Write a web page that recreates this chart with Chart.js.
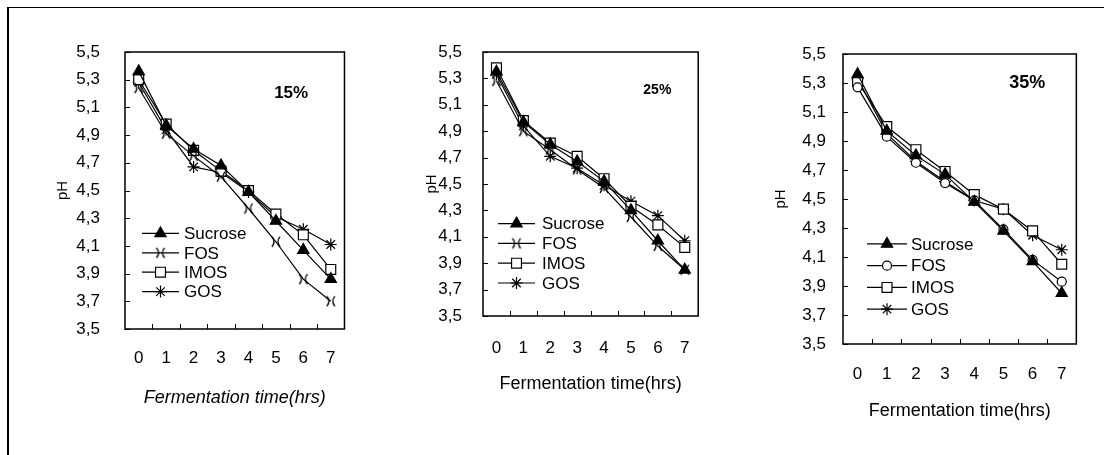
<!DOCTYPE html>
<html>
<head>
<meta charset="utf-8">
<script src="https://cdn.jsdelivr.net/npm/chart.js@4.4.1/dist/chart.umd.min.js"></script>
<style>
  body { margin: 0; background: #fff; width: 1104px; height: 455px; overflow: hidden; position: relative; }
  #frame { position: absolute; left: 7px; top: 7px; width: 1110px; height: 460px; border-top: 1px solid #000; border-left: 2px solid #000; }
  canvas { position: absolute; }
</style>
</head>
<body>
<div id="frame"></div>
<canvas id="c1" width="315" height="374" style="left:40px;top:40px"></canvas>
<canvas id="c2" width="307" height="360" style="left:405px;top:40px"></canvas>
<canvas id="c3" width="322" height="385" style="left:765px;top:42px"></canvas>
<script>
var hours = ['0', '1', '2', '3', '4', '5', '6', '7'];
var yTicks = [3.5, 3.7, 3.9, 4.1, 4.3, 4.5, 4.7, 4.9, 5.1, 5.3, 5.5];

// 15%
var sucrose15 = [5.36, 4.97, 4.80, 4.68, 4.49, 4.28, 4.07, 3.86];
var fos15     = [5.24, 4.91, 4.75, 4.60, 4.37, 4.13, 3.86, 3.70];
var imos15    = [5.30, 4.98, 4.79, 4.64, 4.50, 4.33, 4.18, 3.93];
var gos15     = [5.28, 4.94, 4.67, 4.63, 4.49, 4.31, 4.22, 4.11];
// 25%
var sucrose25 = [5.35, 4.97, 4.80, 4.67, 4.52, 4.30, 4.07, 3.85];
var fos25     = [5.28, 4.90, 4.76, 4.61, 4.47, 4.25, 4.03, 3.85];
var imos25    = [5.38, 4.98, 4.81, 4.71, 4.54, 4.33, 4.19, 4.02];
var gos25     = [5.33, 4.94, 4.71, 4.62, 4.49, 4.37, 4.26, 4.07];
// 35%
var sucrose35 = [5.36, 4.97, 4.80, 4.67, 4.48, 4.28, 4.07, 3.85];
var fos35     = [5.27, 4.93, 4.75, 4.61, 4.49, 4.29, 4.08, 3.93];
var imos35    = [5.31, 5.00, 4.84, 4.69, 4.53, 4.43, 4.28, 4.05];
var gos35     = [5.33, 4.95, 4.76, 4.62, 4.49, 4.43, 4.25, 4.15];

var FONT = "'Liberation Sans', Arial, sans-serif";

// ")(" marker used for FOS in the first two panels
function bowtie() {
    var c = document.createElement('canvas');
    c.width = 14; c.height = 14;
    var g = c.getContext('2d');
    g.strokeStyle = '#000';
    g.lineWidth = 1.4;
    g.beginPath(); g.arc(-2, 7, 7, -0.8, 0.8); g.stroke();
    g.beginPath(); g.arc(16, 7, 7, Math.PI - 0.8, Math.PI + 0.8); g.stroke();
    return c;
}
var bow = bowtie();

// box round the plot + small inner ticks
var framePlugin = {
    id: 'framePlugin',
    afterDraw: function (chart) {
        var a = chart.chartArea, ctx = chart.ctx;
        var xs = chart.scales.x, ys = chart.scales.y;
        ctx.save();
        ctx.strokeStyle = '#000';
        ctx.lineWidth = 1.5;
        ctx.strokeRect(a.left, a.top, a.right - a.left, a.bottom - a.top);
        ctx.lineWidth = 1;
        ctx.beginPath();
        yTicks.forEach(function (v) {
            var y = Math.round(ys.getPixelForValue(v)) + 0.5;
            ctx.moveTo(a.left, y); ctx.lineTo(a.left + 5, y);
        });
        for (var i = 0; i < hours.length - 1; i++) {
            var x = Math.round((xs.getPixelForValue(i) + xs.getPixelForValue(i + 1)) / 2) + 0.5;
            ctx.moveTo(x, a.bottom); ctx.lineTo(x, a.bottom - 5);
        }
        ctx.stroke();
        ctx.restore();
    }
};

// legend drawn inside the plot, lower left
var inLegend = {
    id: 'inLegend',
    afterDatasetsDraw: function (chart, args, o) {
        var a = chart.chartArea, ctx = chart.ctx, h = a.bottom - a.top;
        ctx.save();
        chart.data.datasets.forEach(function (ds, i) {
            var y = a.top + (o.top + o.step * i) * h;
            var x0 = a.left + o.x0, x1 = a.left + o.x1;
            ctx.strokeStyle = '#000';
            ctx.lineWidth = 1.2;
            ctx.beginPath(); ctx.moveTo(x0, y); ctx.lineTo(x1, y); ctx.stroke();
            ctx.fillStyle = ds.pointBackgroundColor;
            Chart.helpers.drawPoint(ctx, { pointStyle: ds.pointStyle, radius: ds.pointRadius, borderWidth: 1.2, rotation: 0 }, (x0 + x1) / 2, y);
            ctx.fillStyle = '#000';
            ctx.font = o.size + 'px ' + FONT;
            ctx.textAlign = 'left';
            ctx.textBaseline = 'middle';
            ctx.fillText(ds.label, a.left + o.tx, y + 1);
        });
        ctx.restore();
    }
};

// "15%" etc.
var panelNote = {
    id: 'panelNote',
    afterDraw: function (chart, args, o) {
        var a = chart.chartArea, ctx = chart.ctx;
        ctx.save();
        ctx.fillStyle = '#000';
        ctx.font = 'bold ' + o.size + 'px ' + FONT;
        ctx.textAlign = 'center';
        ctx.textBaseline = 'middle';
        ctx.fillText(o.text, a.left + o.fx * (a.right - a.left), a.top + o.fy * (a.bottom - a.top));
        ctx.restore();
    }
};

function sets(suc, fos, imos, gos, fosStyle, fosR) {
    return [
        { label: 'Sucrose', data: suc, pointStyle: 'triangle', pointRadius: 6.5, pointBackgroundColor: '#000' },
        { label: 'FOS', data: fos, pointStyle: fosStyle, pointRadius: fosR, pointBackgroundColor: '#fff' },
        { label: 'IMOS', data: imos, pointStyle: 'rect', pointRadius: 7, pointBackgroundColor: '#fff' },
        { label: 'GOS', data: gos, pointStyle: 'star', pointRadius: 6, pointBackgroundColor: '#000' }
    ].map(function (d) {
        d.borderColor = '#000';
        d.borderWidth = 1.2;
        d.pointBorderColor = '#000';
        d.pointBorderWidth = 1.2;
        d.tension = 0;
        d.fill = false;
        return d;
    });
}

function panel(id, datasets, p) {
    return new Chart(document.getElementById(id), {
        type: 'line',
        data: { labels: hours, datasets: datasets },
        options: {
            responsive: false,
            animation: false,
            layout: { padding: { top: 12, right: 8, left: 0, bottom: 0 } },
            plugins: {
                legend: { display: false },
                tooltip: { enabled: false },
                inLegend: p.legend,
                panelNote: p.note
            },
            scales: {
                x: {
                    type: 'category',
                    offset: true,
                    grid: { display: false, drawTicks: false, offset: true },
                    border: { display: false },
                    ticks: { color: '#000', font: { family: FONT, size: 17 }, padding: p.xPad, maxRotation: 0, autoSkip: false },
                    title: {
                        display: true, text: 'Fermentation time(hrs)', color: '#000',
                        font: { family: FONT, size: 18, style: p.italic ? 'italic' : 'normal' },
                        padding: { top: 0, bottom: 5 }
                    },
                    afterFit: function (s) { s.height = p.xHeight; }
                },
                y: {
                    min: 3.5, max: 5.5,
                    grid: { display: false, drawTicks: false },
                    border: { display: false },
                    afterBuildTicks: function (s) { s.ticks = yTicks.map(function (v) { return { value: v }; }); },
                    ticks: {
                        color: '#000', font: { family: FONT, size: 17 }, padding: p.yPad, autoSkip: false,
                        callback: function (v) { return Number(v).toFixed(1).replace('.', ','); }
                    },
                    title: {
                        display: true, text: 'pH', color: '#000',
                        font: { family: FONT, size: 15 },
                        padding: { top: p.phPad, bottom: 0 }
                    },
                    afterFit: function (s) {
                        s.width = p.yWidth;
                        s.paddingTop = 0;
                        s.paddingBottom = 0;
                    }
                }
            }
        },
        plugins: [framePlugin, inLegend, panelNote]
    });
}

panel('c1', sets(sucrose15, fos15, imos15, gos15, bow, 7), {
    xPad: 19, xHeight: 85, yPad: 25, yWidth: 85, phPad: 14, italic: true,
    legend: { top: 0.655, step: 0.07, x0: 17, x1: 54, tx: 59, size: 17 },
    note: { text: '15%', size: 17, fx: 0.757, fy: 0.15 }
});
panel('c2', sets(sucrose25, fos25, imos25, gos25, bow, 7), {
    xPad: 22, xHeight: 84, yPad: 21, yWidth: 78, phPad: 18, italic: false,
    legend: { top: 0.65, step: 0.075, x0: 15, x1: 52, tx: 59, size: 17 },
    note: { text: '25%', size: 14, fx: 0.81, fy: 0.145 }
});
panel('c3', sets(sucrose35, fos35, imos35, gos35, 'circle', 4.5), {
    xPad: 20, xHeight: 83, yPad: 17, yWidth: 78, phPad: 7, italic: false,
    legend: { top: 0.655, step: 0.075, x0: 24, x1: 64, tx: 68, size: 17 },
    note: { text: '35%', size: 18, fx: 0.79, fy: 0.1 }
});
</script>
</body>
</html>
